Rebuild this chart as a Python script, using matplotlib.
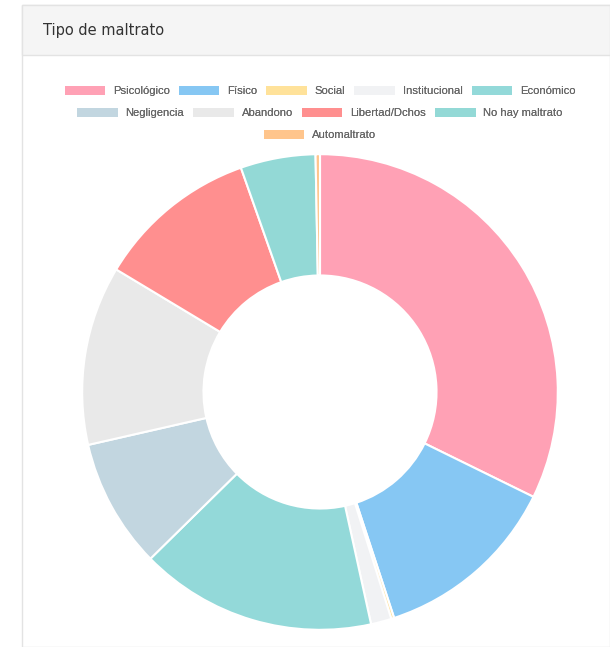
import matplotlib
matplotlib.use("Agg")
import matplotlib.pyplot as plt
from matplotlib.patches import Rectangle

# data (share of each type, %)
labels = ["Psicológico", "Físico", "Social", "Institucional", "Económico",
          "Negligencia", "Abandono", "Libertad/Dchos", "No hay maltrato",
          "Automaltrato"]
values = [32.3, 12.7, 0.2, 1.4, 16.1, 8.8, 12.2, 11.0, 5.1, 0.3]
colors = ["#ffa1b5", "#86c7f3", "#ffe29a", "#f1f2f4", "#93d9d9",
          "#c2d6e0", "#e9e9e9", "#ff8f8f", "#93d9d6", "#ffc58c"]
legend_rows = [[0, 1, 2, 3, 4], [5, 6, 7, 8], [9]]

W, H = 610, 647
fig = plt.figure(figsize=(W / 100, H / 100), dpi=100)
fig.patch.set_facecolor("white")


def fx(px):
    return px / W


def fy(py):
    return 1 - py / H


# card frame and header
fig.patches.append(Rectangle((fx(22), 0), fx(W) - fx(22), fy(5), transform=fig.transFigure,
                             facecolor="white", edgecolor="#e3e3e3", lw=1, zorder=-2))
fig.patches.append(Rectangle((fx(22), fy(55)), fx(W) - fx(22), fy(5) - fy(55),
                             transform=fig.transFigure, facecolor="#f5f5f5",
                             edgecolor="#e3e3e3", lw=1, zorder=-1))
fig.text(fx(43), fy(31), "Tipo de maltrato", fontsize=10.5, color="#333333",
         va="center", ha="left", family="DejaVu Sans")

# donut
cx, cy, r = 320, 392, 239
ax = fig.add_axes([fx(cx - r), fy(cy + r), (2 * r) / W, (2 * r) / H])
ax.set_zorder(2)
ax.patch.set_alpha(0)
wedges, _ = ax.pie(values, colors=colors, startangle=90, counterclock=False,
                   radius=1, wedgeprops=dict(width=0.51, edgecolor="white", linewidth=1.5))
ax.set_xlim(-1.005, 1.005)
ax.set_ylim(-1.005, 1.005)
ax.set_aspect("equal")
ax.axis("off")

# legend, three centered rows like chart.js
row_y = [91, 113, 135]
for row, y in zip(legend_rows, row_y):
    leg = fig.legend([wedges[i] for i in row], [labels[i] for i in row],
                     loc="center", bbox_to_anchor=(fx(320), fy(y)), ncol=len(row),
                     frameon=False, handlelength=3.6, handleheight=0.9,
                     handletextpad=0.7, columnspacing=0.8, borderpad=0,
                     prop={"family": "Liberation Sans", "size": 8.1})
    for t in leg.get_texts():
        t.set_color("#666666")
    for h in leg.legend_handles:
        h.set_edgecolor("none")
    leg.set_zorder(3)
    fig.add_artist(leg)

fig.savefig("out.png", dpi=100)
